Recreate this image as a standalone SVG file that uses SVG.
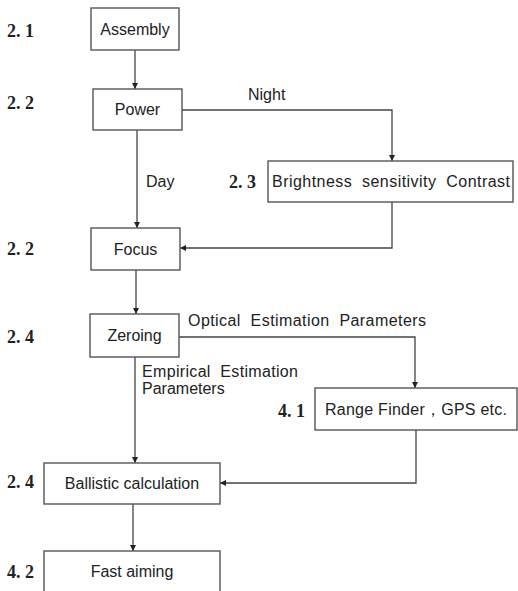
<svg xmlns="http://www.w3.org/2000/svg" width="518" height="591" viewBox="0 0 518 591">
<style>
.box{fill:#fff;stroke:#555;stroke-width:1.4}
.t{font-family:"Liberation Sans",Arial,sans-serif;font-size:16px;fill:#222}
.n{font-family:"Liberation Serif","Times New Roman",serif;font-size:18px;fill:#222;font-weight:bold}
.c{fill:none;stroke:#444;stroke-width:1.3}
</style>
<defs>
<marker id="ah" viewBox="0 0 10 10" refX="10" refY="5" markerWidth="6" markerHeight="6" markerUnits="userSpaceOnUse" orient="auto">
<path d="M0,0 L10,5 L0,10 z" fill="#222"/>
</marker>
</defs>
<rect width="518" height="591" fill="#fff"/>
<g id="connectors">
<line class="c" x1="135" y1="50" x2="135" y2="89" marker-end="url(#ah)"/>
<polyline class="c" points="182,110 392,110 392,161" marker-end="url(#ah)"/>
<line class="c" x1="137" y1="130" x2="137" y2="228" marker-end="url(#ah)"/>
<polyline class="c" points="392,202 392,248 180,248" marker-end="url(#ah)"/>
<line class="c" x1="136" y1="270" x2="136" y2="314" marker-end="url(#ah)"/>
<polyline class="c" points="179,337 415,337 415,388" marker-end="url(#ah)"/>
<line class="c" x1="135" y1="357" x2="135" y2="463" marker-end="url(#ah)"/>
<polyline class="c" points="416,430 416,483 220,483" marker-end="url(#ah)"/>
<line class="c" x1="133" y1="504" x2="133" y2="551" marker-end="url(#ah)"/>
<text class="t" x="248" y="100">Night</text>
<text class="t" x="146" y="187">Day</text>
<text class="t" x="188" y="326" textLength="238" lengthAdjust="spacing" xml:space="preserve">Optical  Estimation  Parameters</text>
<text class="t" x="142" y="377" textLength="156" lengthAdjust="spacing" xml:space="preserve">Empirical  Estimation</text>
<text class="t" x="142" y="394">Parameters</text>
</g>
<g id="assembly">
<rect class="box" x="91" y="8" width="88" height="42"/>
<text class="t" x="135" y="35" text-anchor="middle">Assembly</text>
<text class="n" x="7" y="37" xml:space="preserve">2. 1</text>
</g>
<g id="power">
<rect class="box" x="93" y="89" width="89" height="41"/>
<text class="t" x="137.5" y="115" text-anchor="middle">Power</text>
<text class="n" x="7" y="109" xml:space="preserve">2. 2</text>
</g>
<g id="brightness">
<rect class="box" x="268" y="161" width="245" height="41"/>
<text class="t" x="272" y="187" textLength="238" lengthAdjust="spacing" xml:space="preserve">Brightness  sensitivity  Contrast</text>
<text class="n" x="229" y="188" xml:space="preserve">2. 3</text>
</g>
<g id="focus">
<rect class="box" x="91" y="228" width="89" height="42"/>
<text class="t" x="135.5" y="255" text-anchor="middle">Focus</text>
<text class="n" x="7" y="255" xml:space="preserve">2. 2</text>
</g>
<g id="zeroing">
<rect class="box" x="90" y="314" width="89" height="43"/>
<text class="t" x="134.5" y="341" text-anchor="middle">Zeroing</text>
<text class="n" x="7" y="343" xml:space="preserve">2. 4</text>
</g>
<g id="rangefinder">
<rect class="box" x="315" y="388" width="202" height="42"/>
<text class="t" x="325" y="415" textLength="182" lengthAdjust="spacing">Range Finder，GPS etc.</text>
<text class="n" x="278" y="417" xml:space="preserve">4. 1</text>
</g>
<g id="ballistic">
<rect class="box" x="44" y="463" width="176" height="41"/>
<text class="t" x="132" y="489" text-anchor="middle">Ballistic calculation</text>
<text class="n" x="7" y="488" xml:space="preserve">2. 4</text>
</g>
<g id="fastaiming">
<rect class="box" x="44" y="551" width="176" height="45"/>
<text class="t" x="132" y="577" text-anchor="middle">Fast aiming</text>
<text class="n" x="7" y="578" xml:space="preserve">4. 2</text>
</g>
</svg>
